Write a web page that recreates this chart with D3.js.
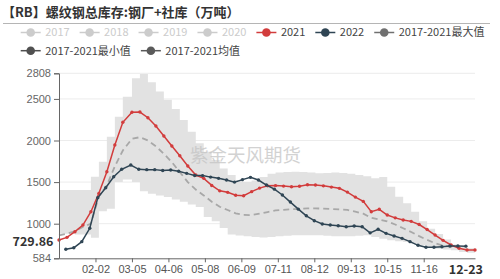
<!DOCTYPE html>
<html><head><meta charset="utf-8">
<script src="https://cdn.jsdelivr.net/npm/d3@7"></script>
<style>
html,body{margin:0;padding:0;background:#fff;}
svg{display:block;font-family:"Noto Sans CJK SC","Noto Sans",sans-serif;}
</style>
</head><body>
<svg id="chart" width="500" height="279"></svg>
<script>
// ---------- data ----------
const titleText = "【RB】螺纹钢总库存:钢厂+社库（万吨）";
const watermarkText = "紫金天风期货";
const legendRow1 = ["2017","2018","2019","2020","2021","2022","2017-2021最大值"];
const legendRow2 = ["2017-2021最小值","2017-2021均值"];
const inactiveSeries = ["2017","2018","2019","2020"];
const yTicks = [584, 1000, 1500, 2000, 2500, 2808];
const xTickLabels = ["02-02","03-05","04-06","05-08","06-09","07-11","08-12","09-13","10-15","11-16"];
const latestDate = "12-23";
const latestValue = 729.86;

// weekly values (2021: every Friday of 2021; 2022: Fridays 01-07 .. 12-23)
const v2021 = [804,836,904,984,1144,1365,1625,1946,2219,2339,2342,2274,2174,2054,1934,1817,1693,1585,1545,1460,
  1395,1377,1342,1336,1385,1428,1455,1458,1452,1445,1450,1468,1465,1455,1440,1425,1380,1320,1268,1144,
  1173,1104,1070,1044,1028,990,930,864,800,744,704,684,684];
const v2022 = [692,711,784,945,1312,1433,1565,1654,1706,1654,1650,1650,1640,1645,1630,1605,1580,1578,1560,1545,
  1525,1500,1530,1557,1525,1465,1415,1345,1260,1175,1095,1036,996,984,976,964,972,964,890,933,
  884,852,824,784,740,716,716,723,732,732,729.86];
// 2017-2021 statistics on the 2021 weekly calendar
const vMax = [1405,1405,1405,1405,1565,1745,2046,2286,2526,2747,2800,2700,2590,2490,2380,2246,2106,1966,1865,1765,
  1665,1585,1525,1500,1520,1560,1600,1615,1620,1625,1620,1615,1605,1610,1615,1610,1600,1585,1570,1545,
  1560,1445,1325,1245,1144,1030,940,875,810,750,720,704,704];
const vMin = [880,880,870,870,830,1150,1180,1500,1530,1500,1390,1360,1340,1320,1290,1264,1230,1200,1080,1030,
  948,870,858,850,840,835,840,850,855,860,860,862,860,855,850,848,850,855,860,840,
  820,800,790,780,760,740,720,700,690,680,660,650,650];
const vMean = [860,880,910,960,1000,1330,1460,1690,1880,2020,2040,2000,1930,1840,1740,1620,1500,1410,1340,1264,
  1204,1165,1125,1105,1104,1120,1140,1160,1167,1175,1178,1183,1185,1180,1177,1172,1165,1145,1120,1070,
  1050,1028,990,945,900,850,805,765,735,725,720,null,null];

// ---------- calendar ----------
const fmt = d3.timeFormat("%m-%d");
const categories = d3.timeDay.range(new Date(2020,0,1), new Date(2021,0,1)).map(fmt); // mm-dd incl. 02-29
const dates2021 = d3.timeFriday.range(new Date(2021,0,1), new Date(2022,0,1)).map(fmt);
const dates2022 = d3.timeFriday.range(new Date(2022,0,1), new Date(2022,11,24)).map(fmt);

// ---------- layout ----------
const svg = d3.select("#chart");
const L = 59, R = 475, T = 73.3, B = 258.3;
const x = d3.scalePoint().domain(categories).range([L, R]);
const y = d3.scaleLinear().domain([584, 2808]).range([B, T]);

const colors = {
  "2017":"#cccccc","2018":"#cccccc","2019":"#cccccc","2020":"#cccccc",
  "2021":"#d23c3c","2022":"#2f4554",
  "2017-2021最大值":"#707070","2017-2021最小值":"#505050","2017-2021均值":"#5a5a5a"
};

// title
svg.append("text").attr("x", 2).attr("y", 17).attr("font-size", 13).attr("font-weight", "bold")
  .attr("fill", "#333").text(titleText);
svg.append("line").attr("x1", 3).attr("x2", 490).attr("y1", 23.5).attr("y2", 23.5)
  .attr("stroke", "#b5b5b5").attr("stroke-width", 1);

// legend
function drawLegendRow(items, yPos) {
  let cx = 20.7;
  items.forEach(name => {
    const c = colors[name];
    const g = svg.append("g");
    g.append("line").attr("x1", cx).attr("x2", cx + 20).attr("y1", yPos).attr("y2", yPos)
      .attr("stroke", c).attr("stroke-width", 1.5);
    g.append("circle").attr("cx", cx + 10).attr("cy", yPos).attr("r", 4.3).attr("fill", c);
    const t = g.append("text").attr("x", cx + 24.5).attr("y", yPos).attr("dy", "0.36em")
      .attr("font-size", 11).attr("fill", inactiveSeries.includes(name) ? "#cccccc" : "#444")
      .text(name);
    cx = cx + 24.5 + t.node().getComputedTextLength() + 10;
  });
}
drawLegendRow(legendRow1, 32.5);
drawLegendRow(legendRow2, 50.7);

// grid
svg.append("g").selectAll("line").data(yTicks.filter(v => v !== 584)).join("line")
  .attr("x1", L).attr("x2", R).attr("y1", d => y(d)).attr("y2", d => y(d))
  .attr("stroke", "#ececec").attr("stroke-width", 1);

// band (min..max), stepped
const band = dates2021.map((d, i) => ({d, lo: vMin[i], hi: vMax[i]}));
svg.append("path").datum(band)
  .attr("d", d3.area().curve(d3.curveStepAfter).x(p => x(p.d)).y0(p => y(p.lo)).y1(p => y(p.hi)))
  .attr("fill", "#e2e2e2");

// watermark
svg.append("text").attr("x", 190).attr("y", 161.5).attr("font-size", 18.5)
  .attr("fill", "#c4c4c4").attr("opacity", 0.75).text(watermarkText);

// mean dashed
const meanData = dates2021.map((d, i) => ({d, v: vMean[i]}));
svg.append("path").datum(meanData)
  .attr("d", d3.line().defined(p => p.v != null).x(p => x(p.d)).y(p => y(p.v)))
  .attr("fill", "none").attr("stroke", "#a8a8a8").attr("stroke-width", 1.8)
  .attr("stroke-dasharray", "6 4");

// series lines
function drawSeries(dates, vals, color) {
  const data = dates.map((d, i) => ({d, v: vals[i]}));
  svg.append("path").datum(data)
    .attr("d", d3.line().x(p => x(p.d)).y(p => y(p.v)))
    .attr("fill", "none").attr("stroke", color).attr("stroke-width", 1.5);
  svg.append("g").selectAll("circle").data(data).join("circle")
    .attr("cx", p => x(p.d)).attr("cy", p => y(p.v)).attr("r", 1.7).attr("fill", color);
}
drawSeries(dates2021, v2021, colors["2021"]);
drawSeries(dates2022, v2022, colors["2022"]);

// axes
const yAxis = svg.append("g").attr("transform", `translate(${L},0)`)
  .call(d3.axisLeft(y).tickValues(yTicks).tickSize(5).tickPadding(3).tickFormat(d3.format("d")));
yAxis.select(".domain").attr("stroke", "#666");
yAxis.selectAll(".tick line").attr("stroke", "#666");
yAxis.selectAll("text").attr("font-size", 11).attr("fill", "#666").attr("font-family", null);

const xAxis = svg.append("g").attr("transform", `translate(0,${B})`)
  .call(d3.axisBottom(x).tickValues(xTickLabels).tickSize(4).tickPadding(3).tickSizeOuter(0));
xAxis.select(".domain").attr("stroke", "#666");
xAxis.selectAll(".tick line").attr("stroke", "#666");
xAxis.selectAll("text").attr("font-size", 11).attr("fill", "#555").attr("font-family", null);

// latest value / date labels
svg.append("text").attr("x", 53.5).attr("y", y(latestValue) - 4.5).attr("dy", "0.36em")
  .attr("text-anchor", "end").attr("font-size", 12.5).attr("font-weight", "bold").attr("fill", "#333")
  .text(d3.format(".2f")(latestValue));
svg.append("text").attr("x", x(latestDate)).attr("y", 269.5).attr("dy", "0.36em")
  .attr("text-anchor", "middle").attr("font-size", 12.5).attr("font-weight", "bold").attr("fill", "#333")
  .text(latestDate);
</script>
</body></html>
